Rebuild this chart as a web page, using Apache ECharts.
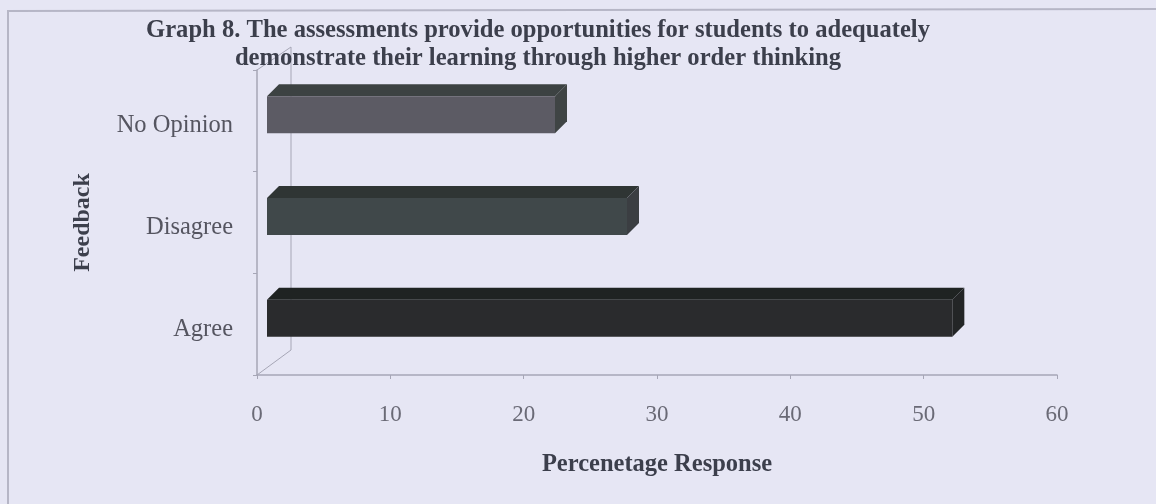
<!DOCTYPE html>
<html><head><meta charset="utf-8">
<style>html,body{margin:0;padding:0;background:#e6e6f4}#c{width:1156px;height:504px}#c canvas{filter:blur(0.6px)}</style>
<script src="https://cdn.jsdelivr.net/npm/echarts@6/dist/echarts.min.js"></script>
</head><body><div id="c"></div>
<script>
const categories = ['Agree', 'Disagree', 'No Opinion'];
const values = [51.4, 27, 21.6];
const tickLabels = [0, 10, 20, 30, 40, 50, 60];
const frontColors = ['#2a2b2d', '#40484a', '#5c5b64'];
const topColors = ['#1f2322', '#2f3534', '#3c4242'];
const sideColors = ['#232526', '#3b3e42', '#3f4444'];
const titleLines = 'Graph 8. The assessments provide opportunities for students to adequately\ndemonstrate their learning through higher order thinking';
const serif = '"Liberation Serif", serif';
const chart = echarts.init(document.getElementById('c'));
const dx = 10, dy = -6, h = 37, depth = 12;
chart.setOption({
  backgroundColor: '#e6e6f4',
  animation: false,
  title: {
    text: titleLines, left: 533, top: 12, textAlign: 'center',
    textStyle: { fontFamily: serif, fontWeight: 'bold', fontSize: 24.6, lineHeight: 28, color: '#3c3f4c' }
  },
  grid: { left: 257, right: 99, top: 70, bottom: 129 },
  xAxis: {
    type: 'value', min: 0, max: 60, interval: 10,
    name: 'Percenetage Response', nameLocation: 'center', nameGap: 77,
    nameTextStyle: { fontFamily: serif, fontWeight: 'bold', fontSize: 24.5, color: '#3c3f4c' },
    axisLine: { show: true, lineStyle: { color: '#a6a6b6', width: 1.5 } },
    axisTick: { show: true, length: 4, lineStyle: { color: '#a6a6b6' } },
    axisLabel: { fontFamily: serif, fontSize: 23, color: '#6a6a76', margin: 28,
      formatter: v => tickLabels.includes(v) ? String(v) : '' },
    splitLine: { show: false }
  },
  yAxis: {
    type: 'category', data: categories,
    name: 'Feedback', nameLocation: 'center', nameGap: 162,
    nameTextStyle: { fontFamily: serif, fontWeight: 'bold', fontSize: 24, color: '#3c3f4c' },
    axisLine: { show: true, lineStyle: { color: '#a6a6b6', width: 1.5 } },
    axisTick: { show: true, length: 4, lineStyle: { color: '#a6a6b6' } },
    axisLabel: { fontFamily: serif, fontSize: 24.5, color: '#555560', margin: 24, lineHeight: 10,
      formatter: v => '\n' + v }
  },
  graphic: [
    { type: 'polyline', silent: true, z: 1, shape: { points: [[8, 504], [8, 11], [1156, 9]] },
      style: { fill: null, stroke: '#b6b6c6', lineWidth: 2 } },
    { type: 'polyline', silent: true, z: 1, shape: { points: [[257, 70], [291, 47], [291, 350], [257, 375]] },
      style: { fill: null, stroke: '#a6a6b6', lineWidth: 1 } }
  ],
  series: [{
    type: 'custom',
    coordinateSystem: 'cartesian2d',
    encode: { x: 0, y: 1 },
    data: values.map((v, i) => [v, i]),
    renderItem(params, api) {
      const i = api.value(1);
      const s = api.coord([0, i]);
      const e = api.coord([api.value(0), i]);
      const x0 = s[0] + dx, x1 = e[0] + dx;
      const yb = s[1] + dy + h / 2, yt = s[1] + dy - h / 2;
      return { type: 'group', children: [
        { type: 'polygon', shape: { points: [[x0, yt], [x0 + depth, yt - depth], [x1 + depth, yt - depth], [x1, yt]] },
          style: { fill: topColors[i] } },
        { type: 'polygon', shape: { points: [[x1, yt], [x1 + depth, yt - depth], [x1 + depth, yb - depth], [x1, yb]] },
          style: { fill: sideColors[i] } },
        { type: 'rect', shape: { x: x0, y: yt, width: x1 - x0, height: h },
          style: { fill: frontColors[i] } }
      ] };
    }
  }]
});
</script></body></html>
